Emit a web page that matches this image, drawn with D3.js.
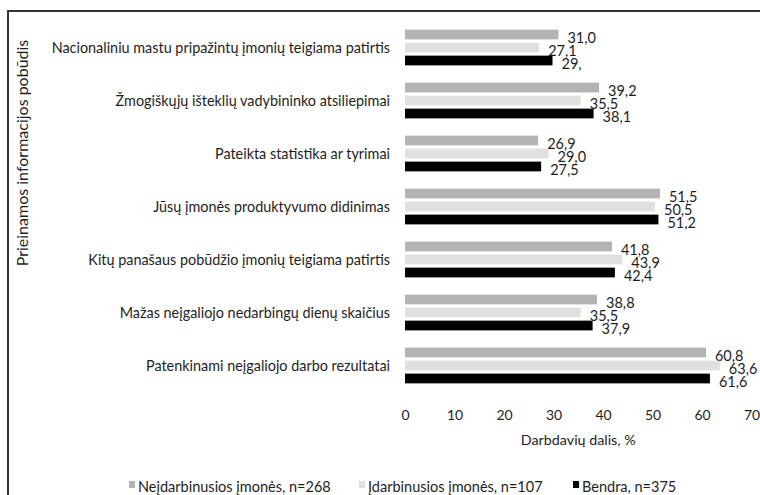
<!DOCTYPE html>
<html>
<head>
<meta charset="utf-8">
<script src="https://cdn.jsdelivr.net/npm/d3@7"></script>
<style>
  html, body { margin: 0; padding: 0; background: #fff; }
  svg text { font-family: Lato, "Open Sans", "Noto Sans", sans-serif; fill: #1e1e1e; }
</style>
</head>
<body>
<svg id="chart" width="760" height="495"></svg>
<script>
// Information types (top to bottom)
const categories = [
  "Nacionaliniu mastu pripažintų įmonių teigiama patirtis",
  "Žmogiškųjų išteklių vadybininko atsiliepimai",
  "Pateikta statistika ar tyrimai",
  "Jūsų įmonės produktyvumo didinimas",
  "Kitų panašaus pobūdžio įmonių teigiama patirtis",
  "Mažas neįgaliojo nedarbingų dienų skaičius",
  "Patenkinami neįgaliojo darbo rezultatai"
];
const seriesNames = [
  "Neįdarbinusios įmonės, n=268",
  "Įdarbinusios įmonės, n=107",
  "Bendra, n=375"
];
const notEmployed = [31.0, 39.2, 26.9, 51.5, 41.8, 38.8, 60.8];
const employed    = [27.1, 35.5, 29.0, 50.5, 43.9, 35.5, 63.6];
const overall     = [29.8, 38.1, 27.5, 51.2, 42.4, 37.9, 61.6];
// the first overall label is printed cut short in the source
const overallLabels = ["29,", null, null, null, null, null, null];
const xTicks = [0, 10, 20, 30, 40, 50, 60, 70];
const seriesColors = ["#b3b3b3", "#e0e0e0", "#000000"];

const seriesValues = [notEmployed, employed, overall];
const fmt = v => d3.format(".1f")(v).replace(".", ",");

const svg = d3.select("#chart");

// outer frame (runs off the right and bottom edges)
svg.append("rect")
  .attr("x", 8).attr("y", 11)
  .attr("width", 800).attr("height", 520)
  .attr("fill", "none").attr("stroke", "#333").attr("stroke-width", 2);

const x = d3.scaleLinear().domain([0, 70]).range([405, 751.5]);
const y = d3.scaleBand().domain(categories).range([21, 392]).padding(0);
const ySub = d3.scaleBand().domain(d3.range(3)).range([7, 46])
  .paddingInner(0.25).paddingOuter(0.125);

// bars
const groups = svg.append("g").selectAll("g")
  .data(categories)
  .join("g")
  .attr("transform", d => `translate(0,${y(d)})`);

groups.each(function(cat, ci) {
  const g = d3.select(this);
  seriesValues.forEach((vals, si) => {
    const v = vals[ci];
    g.append("rect")
      .attr("x", x(0))
      .attr("y", ySub(si))
      .attr("width", x(v) - x(0))
      .attr("height", ySub.bandwidth())
      .attr("fill", seriesColors[si]);
    const label = si === 2 && overallLabels[ci] ? overallLabels[ci] : fmt(v);
    g.append("text")
      .attr("x", x(v) + 9)
      .attr("y", ySub(si) + ySub.bandwidth() / 2 + 4.5)
      .attr("dominant-baseline", "middle")
      .attr("font-size", 14.5)
      .text(label);
  });
});

// category labels
svg.append("g").selectAll("text")
  .data(categories)
  .join("text")
  .attr("x", 390)
  .attr("y", d => y(d) + y.bandwidth() / 2 + 2)
  .attr("text-anchor", "end")
  .attr("dominant-baseline", "middle")
  .attr("font-size", 14.4)
  .text(d => d);

// value axis (labels only)
const xAxis = svg.append("g")
  .attr("transform", "translate(0,392)")
  .call(d3.axisBottom(x).tickValues(xTicks).tickSize(0).tickPadding(18).tickFormat(d3.format("d")));
xAxis.select(".domain").remove();
xAxis.selectAll("text").attr("font-size", 14).attr("fill", "#1e1e1e")
  .style("font-family", 'Lato, "Open Sans", sans-serif');

svg.append("text")
  .attr("x", (x(0) + x(70)) / 2)
  .attr("y", 445)
  .attr("text-anchor", "middle")
  .attr("font-size", 14.3)
  .text("Darbdavių dalis, %");

// category axis title
svg.append("text")
  .attr("transform", "translate(24,153) rotate(-90)")
  .attr("text-anchor", "middle")
  .attr("dominant-baseline", "middle")
  .attr("font-size", 16)
  .text("Prieinamos informacijos pobūdis");

// legend
const legendX = [129, 359, 573];
const legend = svg.append("g").selectAll("g")
  .data(seriesNames)
  .join("g")
  .attr("transform", (d, i) => `translate(${legendX[i]},0)`);
legend.append("rect")
  .attr("x", 0).attr("y", 481)
  .attr("width", 6).attr("height", 7)
  .attr("fill", (d, i) => seriesColors[i]);
legend.append("text")
  .attr("x", 9).attr("y", 492)
  .attr("font-size", 14.5)
  .text(d => d);
</script>
</body>
</html>
